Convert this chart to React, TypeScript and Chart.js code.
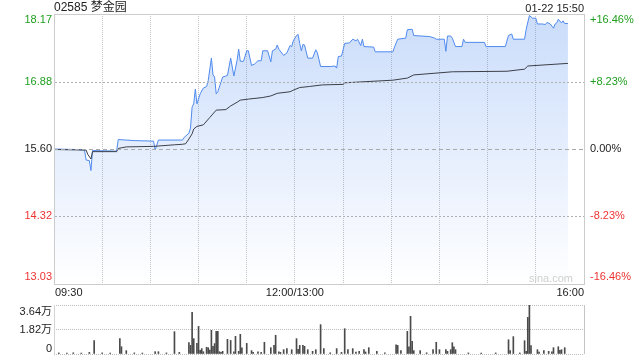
import React, { useEffect, useRef } from 'react';
import { Chart, registerables } from 'chart.js';

Chart.register(...registerables);

const FONT = 'Arial, "Liberation Sans", "Noto Sans CJK SC", sans-serif';
const GREEN = '#1f9e1f';
const RED = '#ee3333';
const DARK = '#222222';

const TITLE = '02585 梦金园';
const STAMP = '01-22 15:50';
const PREV_CLOSE = 15.6;

const priceTickValues = [18.17, 16.88, 15.6, 14.32, 13.03];
const priceTickLabels = ['18.17', '16.88', '15.60', '14.32', '13.03'];
const pctTickLabels = ['+16.46%', '+8.23%', '0.00%', '-8.23%', '-16.46%'];

const timeGridMinutes = [0, 30, 60, 90, 120, 150, 180, 210, 240, 270, 300, 330];
const timeLabelMinutes = [0, 150, 330];
const timeLabels = ['09:30', '12:00/13:00', '16:00'];

const priceMinutes = [
  0, 14, 19, 20, 22, 23, 24, 39, 40, 50, 62, 63, 65, 80, 81, 84, 85, 86, 87, 88, 89, 91, 93, 95, 96, 98, 99, 100,
  101, 102, 105, 108, 110, 112, 114, 115, 116, 118, 120, 121, 123, 125, 127, 129, 130, 133, 135, 136, 138, 139,
  140, 143, 145, 147, 148, 149, 151, 152, 153, 154, 155, 156, 158, 161, 163, 164, 166, 172, 175, 176, 177, 179,
  181, 184, 186, 188, 189, 191, 192, 193, 199, 200, 211, 212, 214, 219, 220, 223, 224, 234, 237, 238, 243, 244,
  245, 247, 248, 250, 254, 255, 256, 268, 269, 281, 283, 285, 286, 293, 294, 296, 298, 300, 301, 304, 306, 307,
  309, 311, 312, 313, 314, 316, 317, 318, 320,
];
const priceValues = [
  15.6, 15.59, 15.58, 15.39, 15.38, 15.19, 15.57, 15.56, 15.78, 15.76, 15.75, 15.58, 15.77, 15.77, 15.82, 15.9,
  16.0, 16.4, 16.46, 16.74, 16.46, 16.65, 16.76, 16.79, 16.9, 17.33, 17.01, 16.97, 16.65, 16.69, 16.97, 17.0,
  17.33, 16.99, 17.29, 17.5, 17.27, 17.27, 17.47, 17.47, 17.19, 17.22, 17.28, 17.28, 17.47, 17.47, 17.26, 17.47,
  17.5, 17.58, 17.5, 17.38, 17.43, 17.57, 17.55, 17.66, 17.76, 17.78, 17.61, 17.47, 17.59, 17.58, 17.33, 17.33,
  17.49, 17.43, 17.17, 17.17, 17.18, 17.14, 17.36, 17.37, 17.61, 17.62, 17.69, 17.66, 17.69, 17.57, 17.69, 17.55,
  17.54, 17.45, 17.45, 17.54, 17.69, 17.71, 17.87, 17.88, 17.76, 17.74, 17.71, 17.69, 17.69, 17.46, 17.75, 17.75,
  17.71, 17.55, 17.55, 17.69, 17.63, 17.63, 17.55, 17.55, 17.76, 17.79, 17.69, 17.69, 17.88, 18.14, 18.09, 18.09,
  17.98, 17.98, 17.97, 18.01, 17.98, 17.9, 17.98, 18.0, 18.07, 18.0, 18.04, 17.99, 17.99,
];

const avgMinutes = [
  0, 20, 21, 23, 24, 39, 40, 45, 62, 75, 80, 82, 84, 86, 87, 89, 93, 97, 101, 107, 110, 114, 116, 121, 130, 135,
  139, 147, 149, 153, 159, 167, 180, 181, 211, 220, 224, 248, 282, 293, 295, 320,
];
const avgValues = [
  15.59, 15.58, 15.5, 15.41, 15.55, 15.55, 15.61, 15.64, 15.65, 15.68, 15.69, 15.7, 15.79, 15.89, 15.98, 16.03,
  16.06, 16.2, 16.34, 16.35, 16.42, 16.49, 16.53, 16.55, 16.58, 16.61, 16.66, 16.69, 16.72, 16.77, 16.79, 16.82,
  16.83, 16.86, 16.91, 16.95, 17.01, 17.07, 17.08, 17.12, 17.18, 17.23,
];

const volMinutes = [
  3, 8, 12, 17, 22, 25, 30, 35, 41, 42, 45, 50, 55, 63, 65, 70, 75, 78, 84, 85, 86, 87, 89, 90, 91, 92, 93, 95, 96,
  97, 98, 99, 100, 101, 102, 103, 104, 105, 108, 110, 112, 113, 115, 116, 117, 120, 123, 124, 127, 129, 131, 135,
  137, 138, 140, 141, 143, 145, 148, 151, 152, 153, 155, 156, 158, 161, 163, 166, 168, 172, 176, 179, 181, 183,
  186, 188, 190, 193, 194, 196, 201, 206, 213, 214, 216, 220, 221, 222, 223, 224, 228, 232, 236, 238, 240, 244,
  245, 247, 248, 249, 250, 258, 266, 275, 283, 284, 286, 290, 293, 294, 295, 296, 297, 301, 302, 305, 308, 310,
  311, 314, 315, 316, 318,
];
const volValues = [
  800, 700, 900, 700, 1200, 9900, 800, 700, 11400, 5400, 2500, 800, 700, 1700, 1700, 800, 16600, 1200, 8400, 6400,
  31000, 11400, 7900, 20500, 2700, 4000, 1700, 5000, 4700, 3000, 17600, 5700, 7700, 16800, 16800, 1700, 1200, 2000,
  10900, 10100, 1700, 13100, 2000, 14600, 4500, 7900, 2500, 1200, 1700, 1200, 8700, 4700, 6400, 13900, 1700, 1200,
  3200, 4000, 3200, 11400, 3500, 6400, 6400, 5700, 3200, 2000, 3200, 21800, 4000, 900, 4000, 1200, 18800, 3200,
  4000, 1500, 2000, 3200, 1500, 4700, 2000, 900, 6900, 6400, 2500, 16800, 5400, 28000, 9400, 2500, 2500, 900, 3200,
  8700, 3200, 3200, 2000, 3200, 8400, 5400, 3200, 800, 700, 800, 10600, 2500, 12900, 800, 9900, 2000, 27200, 36400,
  6200, 3200, 1500, 2500, 2000, 1700, 4700, 5400, 2700, 3200, 4700,
];

const volTickValues = [36400, 18200, 0];
const volTickLabels = ['3.64万', '1.82万', '0'];

function priceColor(v: number): string {
  if (Math.abs(v - PREV_CLOSE) < 1e-6) return DARK;
  return v > PREV_CLOSE ? GREEN : RED;
}

const pricePlugin = {
  id: 'priceDecor',
  afterDatasetsDraw(chart: any) {
    const { ctx, chartArea: a, scales } = chart;
    ctx.save();
    ctx.lineWidth = 1;
    ctx.lineDashOffset = 0;
    ctx.strokeStyle = '#b0b0b0';
    ctx.setLineDash([2, 2]);
    for (let i = 1; i < priceTickValues.length - 1; i++) {
      const v = priceTickValues[i];
      if (Math.abs(v - PREV_CLOSE) < 1e-6) continue;
      const y = Math.round(scales.y.getPixelForValue(v)) + 0.5;
      ctx.beginPath();
      ctx.moveTo(a.left + 1, y);
      ctx.lineTo(a.right, y);
      ctx.stroke();
    }
    const y0 = Math.round(scales.y.getPixelForValue(PREV_CLOSE)) + 0.5;
    ctx.strokeStyle = '#aaaaaa';
    ctx.setLineDash([4, 3]);
    ctx.beginPath();
    ctx.moveTo(a.left, y0);
    ctx.lineTo(a.right, y0);
    ctx.stroke();
    ctx.restore();
  },
  afterDraw(chart: any) {
    const { ctx, chartArea: a, scales } = chart;
    ctx.save();
    ctx.strokeStyle = '#cccccc';
    ctx.lineWidth = 1;
    ctx.setLineDash([]);
    ctx.strokeRect(Math.round(a.left) + 0.5, Math.round(a.top) + 0.5, Math.round(a.right - a.left), Math.round(a.bottom - a.top));
    ctx.font = `11px ${FONT}`;
    ctx.textBaseline = 'middle';
    priceTickValues.forEach((v, i) => {
      let y = scales.y.getPixelForValue(v);
      y = Math.min(Math.max(y, a.top + 6), a.bottom - 7);
      ctx.fillStyle = priceColor(v);
      ctx.textAlign = 'right';
      ctx.fillText(priceTickLabels[i], a.left - 2, y);
      ctx.textAlign = 'left';
      ctx.fillText(pctTickLabels[i], a.right + 6, y);
    });
    ctx.fillStyle = DARK;
    timeLabelMinutes.forEach((m, i) => {
      const x = scales.x.getPixelForValue(m);
      ctx.textAlign = i === 0 ? 'left' : i === timeLabelMinutes.length - 1 ? 'right' : 'center';
      ctx.fillText(timeLabels[i], x + (i === 0 ? 1 : 0), a.bottom + 9);
    });
    ctx.fillStyle = '#cfcfcf';
    ctx.textAlign = 'right';
    ctx.fillText('sina.com', a.right - 11, a.bottom - 5);
    ctx.restore();
  },
};

const volPlugin = {
  id: 'volDecor',
  afterDraw(chart: any) {
    const { ctx, chartArea: a, scales } = chart;
    ctx.save();
    ctx.strokeStyle = '#d4d4d4';
    ctx.lineWidth = 1;
    ctx.beginPath();
    ctx.moveTo(Math.round(a.left) + 0.5, a.top);
    ctx.lineTo(Math.round(a.left) + 0.5, a.bottom);
    ctx.stroke();
    ctx.strokeStyle = '#c4c4c4';
    ctx.beginPath();
    ctx.moveTo(Math.round(a.right) + 0.5, a.top);
    ctx.lineTo(Math.round(a.right) + 0.5, a.bottom);
    ctx.stroke();
    ctx.font = `11px ${FONT}`;
    ctx.textBaseline = 'middle';
    ctx.textAlign = 'right';
    ctx.fillStyle = DARK;
    volTickValues.forEach((v, i) => {
      let y = scales.y.getPixelForValue(v);
      y = Math.min(Math.max(y, a.top + 7), a.bottom - 5);
      ctx.fillText(volTickLabels[i], a.left - 2, y);
    });
    ctx.restore();
  },
};

export default function App() {
  const priceRef = useRef<HTMLCanvasElement>(null);
  const volRef = useRef<HTMLCanvasElement>(null);

  useEffect(() => {
    const pricePts = priceMinutes.map((m, i) => ({ x: m, y: priceValues[i] }));
    const avgPts = avgMinutes.map((m, i) => ({ x: m, y: avgValues[i] }));
    const volPts = volMinutes.map((m, i) => ({ x: m, y: volValues[i] }));

    const pc = new Chart(priceRef.current as HTMLCanvasElement, {
      type: 'line',
      data: {
        datasets: [
          {
            data: avgPts,
            borderColor: '#3b3f48',
            borderWidth: 1,
            pointRadius: 0,
            fill: false,
            tension: 0,
            order: 0,
          },
          {
            data: pricePts,
            borderColor: '#4f8aee',
            borderWidth: 1,
            pointRadius: 0,
            tension: 0,
            order: 1,
            fill: 'start',
            backgroundColor: (c: any) => {
              const chart = c.chart;
              const a = chart.chartArea;
              if (!a) return 'rgba(80,140,240,0.15)';
              const g = chart.ctx.createLinearGradient(0, a.top, 0, a.bottom);
              g.addColorStop(0, 'rgba(80,140,240,0.30)');
              g.addColorStop(1, 'rgba(80,140,240,0.0)');
              return g;
            },
          },
        ],
      } as any,
      options: {
        animation: false,
        responsive: false,
        events: [],
        layout: { padding: { left: 54, right: 56, top: 14, bottom: 16 } },
        plugins: { legend: { display: false }, tooltip: { enabled: false } },
        scales: {
          x: {
            type: 'linear',
            min: 0,
            max: 330,
            ticks: { display: false },
            grid: { color: '#c4c4c4', lineWidth: 1, drawTicks: false },
            border: { display: false, dash: [1, 1] },
            afterBuildTicks: (s: any) => {
              s.ticks = timeGridMinutes.map((v) => ({ value: v }));
            },
          },
          y: {
            type: 'linear',
            min: 13.03,
            max: 18.17,
            ticks: { display: false },
            grid: { display: false, drawTicks: false },
            border: { display: false },
          },
        },
      } as any,
      plugins: [pricePlugin],
    });

    const vc = new Chart(volRef.current as HTMLCanvasElement, {
      type: 'bar',
      data: {
        datasets: [
          {
            data: volPts,
            backgroundColor: '#4a4a4a',
            barThickness: 1,
            borderWidth: 0,
          },
        ],
      } as any,
      options: {
        animation: false,
        responsive: false,
        events: [],
        layout: { padding: { left: 54, right: 56, top: 5, bottom: 6 } },
        plugins: { legend: { display: false }, tooltip: { enabled: false } },
        scales: {
          x: {
            type: 'linear',
            min: 0,
            max: 330,
            offset: false,
            display: false,
          },
          y: {
            type: 'linear',
            min: 0,
            max: 36400,
            ticks: { display: false },
            grid: { color: '#bdbdbd', lineWidth: 1, drawTicks: false },
            border: { display: false, dash: [1, 1] },
            afterBuildTicks: (s: any) => {
              s.ticks = volTickValues.map((v) => ({ value: v }));
            },
          },
        },
      } as any,
      plugins: [volPlugin],
    });

    return () => {
      pc.destroy();
      vc.destroy();
    };
  }, []);

  return (
    <div
      style={{
        position: 'absolute',
        left: 0,
        top: 0,
        width: 640,
        height: 360,
        background: '#ffffff',
        overflow: 'hidden',
        fontFamily: FONT,
      }}
    >
      <canvas ref={priceRef} width={640} height={300} style={{ position: 'absolute', left: 0, top: 0 }} />
      <canvas ref={volRef} width={640} height={60} style={{ position: 'absolute', left: 0, top: 300 }} />
      <div style={{ position: 'absolute', left: 54, top: 0, fontSize: 12, lineHeight: '14px', color: DARK, whiteSpace: 'nowrap' }}>
        {TITLE}
      </div>
      <div style={{ position: 'absolute', right: 56, top: 1, fontSize: 11, lineHeight: '14px', color: DARK, whiteSpace: 'nowrap' }}>
        {STAMP}
      </div>
    </div>
  );
}
